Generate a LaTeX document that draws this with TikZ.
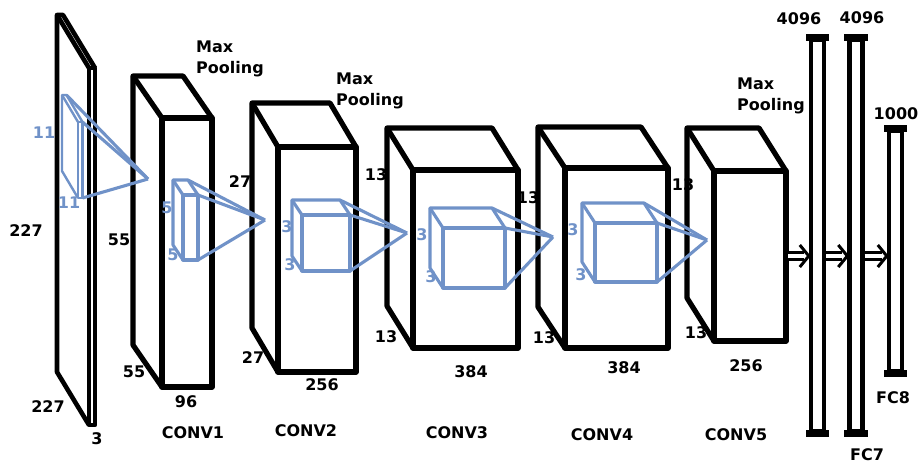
\documentclass[tikz,border=0pt]{standalone}
\usepackage{fontspec}
\setmainfont{DejaVu Sans}
\usetikzlibrary{arrows.meta,calc}
\definecolor{kblue}{RGB}{112,146,200}
\tikzset{
  box/.style={line width=5.2pt, line join=round, black},
  thinbox/.style={box, line width=4.6pt},
  kern/.style={line width=3.1pt, kblue, line join=round},
  thinkern/.style={kern, line width=2.4pt},
  lbl/.style={font=\fontsize{16}{19}\selectfont\bfseries, inner sep=0pt},
  klbl/.style={lbl, text=kblue},
  pool/.style={inner sep=0pt, align=left, anchor=north west, font=\fontsize{16}{21}\selectfont\bfseries},
  fcbar/.style={draw, line width=4.4pt, inner sep=0pt, minimum width=13pt},
  dblline/.style={double, double distance=3.3pt, line width=3.3pt},
  chevron/.style={line width=3pt, line join=miter},
}
% #1 style, front rect x1 y1 x2 y2, depth offset dx dy
\newcommand{\cuboid}[7][box]{%
  \draw[#1] (#2,#3) rectangle (#4,#5);
  \draw[#1] (#2,#5) -- ++(#6,#7) -- ($(#2,#3)+(#6,#7)$) -- ($(#4,#3)+(#6,#7)$) -- (#4,#3);
  \draw[#1] (#2,#3) -- ++(#6,#7);}
% kernel pyramid: apex name, front rect x1 y1 x2 y2, offset dx dy
\newcommand{\pyr}[7]{%
  \draw[kern] ($(#4,#3)+(#6,#7)$) -- (#1);
  \draw[kern] (#4,#3) -- (#1);
  \draw[kern] (#4,#5) -- (#1);}
% double-line arrow from named point #1 to named point #2
\newcommand{\dblarrow}[2]{%
  \draw[dblline] (#1) -- ($(#2)+(-5,0)$);
  \draw[chevron] ($(#2)+(-9,-11)$) -- (#2) -- ($(#2)+(-9,11)$);}
\begin{document}
\begin{tikzpicture}[x=1pt,y=-1pt]
\useasboundingbox (0,0) rectangle (919,464);
% layers
\cuboid[thinbox]{89}{68}{95}{425}{-32}{-53}
\cuboid{162}{118}{212}{387}{-29}{-42}
\cuboid{278}{147}{356}{372}{-26}{-44}
\cuboid{413}{170}{518}{348}{-26}{-42}
\cuboid{565}{168}{668}{348}{-27}{-41}
\cuboid{714}{171}{786}{341}{-27}{-43}
% fully connected bars
\node[fcbar, minimum height=391pt] (fc6) at (817.5,235.5) {};
\node[fcbar, minimum height=391pt] (fc7) at (856,235.5) {};
\node[fcbar, minimum height=240pt] (fc8) at (895.5,251) {};
\foreach \b in {fc6,fc7,fc8}{
  \fill ([xshift=-3pt,yshift=3.5pt]\b.north west) rectangle ([xshift=3pt,yshift=-3.5pt]\b.north east);
  \fill ([xshift=-3pt,yshift=3.5pt]\b.south west) rectangle ([xshift=3pt,yshift=-3.5pt]\b.south east);
}
\coordinate (c5out) at (788,256);
\coordinate (in6) at (c5out -| fc6.west);
\coordinate (out6) at (c5out -| fc6.east);
\coordinate (in7) at (c5out -| fc7.west);
\coordinate (out7) at (c5out -| fc7.east);
\coordinate (in8) at (c5out -| fc8.west);
\dblarrow{c5out}{in6}
\dblarrow{out6}{in7}
\dblarrow{out7}{in8}
% kernels
\coordinate (ap0) at (148,179);
\coordinate (ap1) at (265,220);
\coordinate (ap2) at (407,233);
\coordinate (ap3) at (553,237);
\coordinate (ap4) at (707,240);
\cuboid[thinkern]{78}{122}{82.5}{198}{-16}{-27}
\pyr{ap0}{78}{122}{82.5}{198}{-16}{-27}
\cuboid[kern]{183}{195}{198}{260}{-10}{-15}
\pyr{ap1}{183}{195}{198}{260}{-10}{-15}
\cuboid[kern]{302}{215}{350}{271}{-10}{-15}
\pyr{ap2}{302}{215}{350}{271}{-10}{-15}
\cuboid[kern]{443}{228}{505}{288}{-13}{-20}
\pyr{ap3}{443}{228}{505}{288}{-13}{-20}
\cuboid[kern]{595}{223}{657}{282}{-13}{-20}
\pyr{ap4}{595}{223}{657}{282}{-13}{-20}
% kernel labels
\node[klbl] (k0a) at (44,133) {11};
\node[klbl] (k0b) at (69,203) {11};
\node[klbl] (k1a) at (167,208) {5};
\node[klbl] (k1b) at (173,255) {5};
\node[klbl] (k2a) at (287,227) {3};
\node[klbl] (k2b) at (290,265) {3};
\node[klbl] (k3a) at (422,235) {3};
\node[klbl] (k3b) at (431,277) {3};
\node[klbl] (k4a) at (573,230) {3};
\node[klbl] (k4b) at (581,275) {3};
% dimension labels
\node[lbl] (i1) at (26,231) {227};
\node[lbl] (i2) at (48,407) {227};
\node[lbl] (i3) at (97,439) {3};
\node[lbl] (a1) at (119,240) {55};
\node[lbl] (a2) at (134,372) {55};
\node[lbl] (a3) at (186,402) {96};
\node[lbl] (a4) at (193,433) {CONV1};
\node[lbl] (b1) at (240,182) {27};
\node[lbl] (b2) at (253,358) {27};
\node[lbl] (b3) at (322,385) {256};
\node[lbl] (b4) at (306,431) {CONV2};
\node[lbl] (c1) at (376,175) {13};
\node[lbl] (c2) at (386,337) {13};
\node[lbl] (c3) at (471,372) {384};
\node[lbl] (c4) at (457,433) {CONV3};
\node[lbl] (d1) at (528,198) {13};
\node[lbl] (d2) at (544,338) {13};
\node[lbl] (d3) at (624,368) {384};
\node[lbl] (d4) at (602,435) {CONV4};
\node[lbl] (e1) at (683,185) {13};
\node[lbl] (e2) at (696,333) {13};
\node[lbl] (e3) at (746,366) {256};
\node[lbl] (e4) at (736,435) {CONV5};
\node[pool] (p1) at (196,41) {Max\\Pooling};
\node[pool] (p2) at (336,73) {Max\\Pooling};
\node[pool] (p3) at (737,78) {Max\\Pooling};
\node[lbl] (f1) at (799,19) {4096};
\node[lbl] (f2) at (862,18) {4096};
\node[lbl] (f3) at (896,114) {1000};
\node[lbl] (f4) at (893,398) {FC8};
\node[lbl] (f5) at (867,455) {FC7};
\end{tikzpicture}
\end{document}
